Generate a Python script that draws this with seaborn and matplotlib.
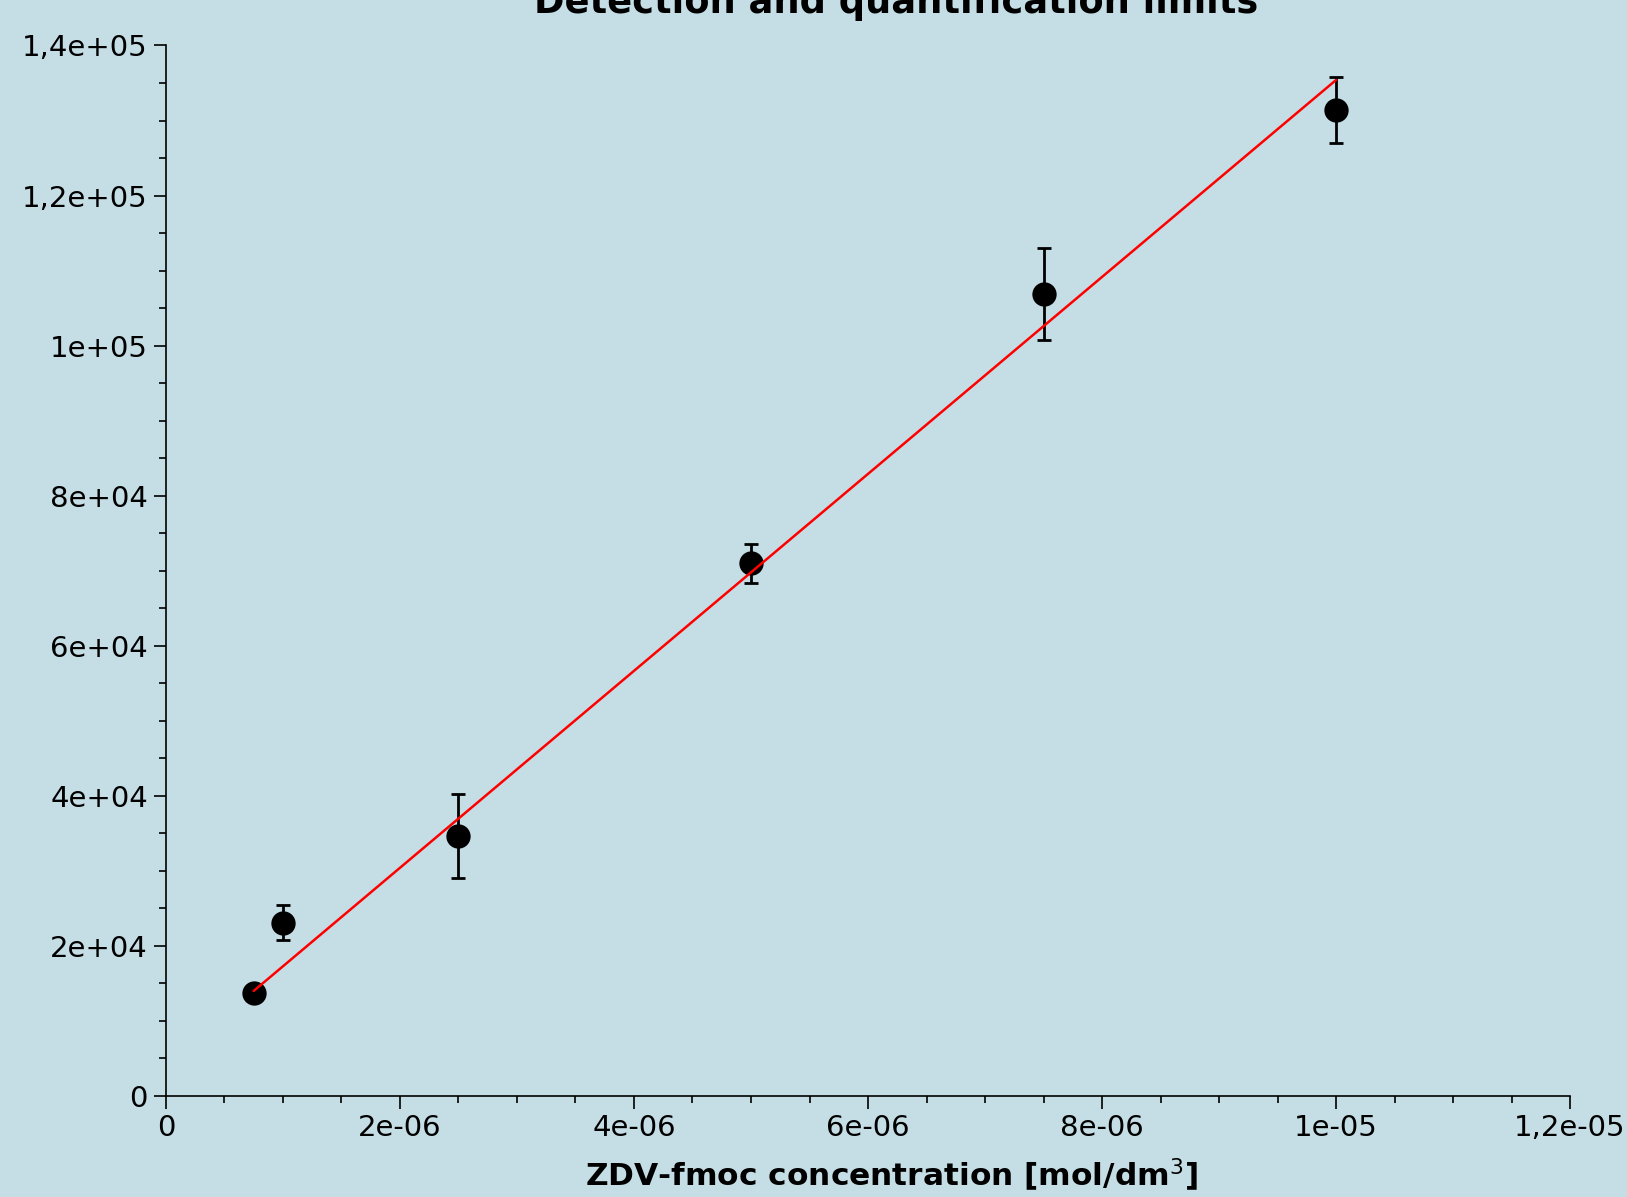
import matplotlib.pyplot as plt
import seaborn as sns
from matplotlib.ticker import MultipleLocator, FuncFormatter

# calibration points
conc = [7.5e-07, 1.0e-06, 2.5e-06, 5.0e-06, 7.5e-06, 1.0e-05]
area = [13700, 23100, 34600, 71000, 106900, 131400]
area_err = [800, 2300, 5600, 2600, 6100, 4400]

# regression line coefficients
fit_slope = 1.3124e10
fit_intercept = 4160

bg = "#c5dee5"
sns.set_theme(style="ticks", rc={
    "figure.facecolor": bg,
    "axes.facecolor": bg,
    "axes.edgecolor": "black",
    "axes.linewidth": 1.2,
    "xtick.color": "black",
    "ytick.color": "black",
    "text.color": "black",
})
plt.rcParams["font.family"] = ["DejaVu Sans"]
plt.rcParams["mathtext.fontset"] = "custom"
plt.rcParams["mathtext.rm"] = "DejaVu Sans"

fig = plt.figure(figsize=(16.27, 11.97), dpi=100)
ax = fig.add_axes([0.102, 0.0844, 0.863, 0.8776])

ax.errorbar(conc, area, yerr=area_err, fmt="none", ecolor="black",
            elinewidth=2, capsize=5, capthick=2, zorder=2)
sns.scatterplot(x=conc, y=area, s=17.5 ** 2, color="black", edgecolor="black",
                linewidth=0, zorder=3, ax=ax)

fit_x = [conc[0], conc[-1]]
fit_y = [fit_slope * x + fit_intercept for x in fit_x]
sns.lineplot(x=fit_x, y=fit_y, color="red", linewidth=1.8, zorder=4, ax=ax)

ax.set_xlim(0, 1.2e-05)
ax.set_ylim(0, 1.4e05)
ax.xaxis.set_major_locator(MultipleLocator(2e-06))
ax.xaxis.set_minor_locator(MultipleLocator(5e-07))
ax.yaxis.set_major_locator(MultipleLocator(2e04))
ax.yaxis.set_minor_locator(MultipleLocator(5e03))


def comma_fmt(v, pos):
    return "{:.2g}".format(v).replace(".", ",")


ax.xaxis.set_major_formatter(FuncFormatter(comma_fmt))
ax.yaxis.set_major_formatter(FuncFormatter(comma_fmt))
ax.tick_params(which="major", length=9, width=1.2, labelsize=21, pad=4)
ax.tick_params(which="minor", length=5, width=1.2)
sns.despine(ax=ax)
ax.set_xlabel("")
ax.set_ylabel("")

fig.text(0.551, 0.989, "Detection and quantification limits", ha="center",
         va="baseline", fontsize=26.5, fontweight="bold", color="black")
fig.text(0.548, 0.009, r"ZDV-fmoc concentration [mol/dm$^{\mathrm{3}}$]",
         ha="center", va="baseline", fontsize=22.5, fontweight="bold",
         color="black")

fig.savefig("out.png", dpi=100, facecolor=bg)
